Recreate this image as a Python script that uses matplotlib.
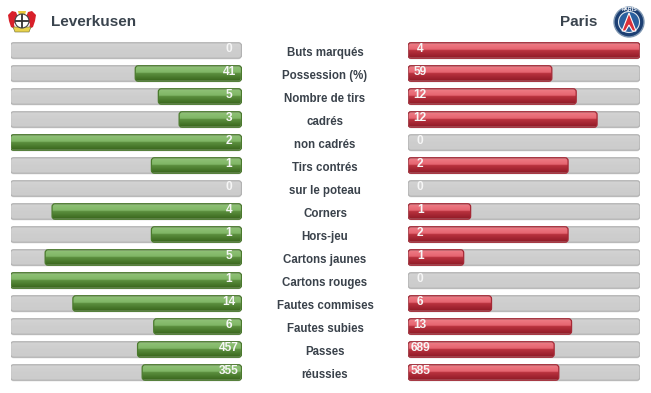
"""Leverkusen vs Paris match stats, two mirrored bar columns."""
import numpy as np
import matplotlib
matplotlib.use("Agg")
import matplotlib.pyplot as plt
from matplotlib.colors import LinearSegmentedColormap
from matplotlib.patches import Circle, FancyBboxPatch, Polygon

W, H = 651, 393

categories = ["Buts marqués", "Possession (%)", "Nombre de tirs", "cadrés", "non cadrés",
              "Tirs contrés", "sur le poteau", "Corners", "Hors-jeu", "Cartons jaunes",
              "Cartons rouges", "Fautes commises", "Fautes subies", "Passes", "réussies"]
home_labels = ["0", "41", "5", "3", "2", "1", "0", "4", "1", "5", "1", "14", "6", "457", "355"]
away_labels = ["4", "59", "12", "12", "0", "2", "0", "1", "2", "1", "0", "6", "13", "689", "585"]
# bar length as % of the track
home_fill = [0, 46, 36, 27, 100, 39, 0, 82, 39, 85, 100, 73, 38, 45, 43]
away_fill = [100, 62, 72.5, 81.5, 0, 69, 0, 27, 69, 24, 0, 36, 70.5, 63, 65]

GRAY = LinearSegmentedColormap.from_list("g", ["#d4d4d4", "#cecece", "#cccccc"])
GREEN = LinearSegmentedColormap.from_list(
    "gr", [(0, "#93c47a"), (0.47, "#7fb565"), (0.5, "#5d9140"), (1, "#38651b")])
RED = LinearSegmentedColormap.from_list(
    "r", [(0, "#f0808a"), (0.47, "#e5646f"), (0.5, "#bb3340"), (1, "#8f1a26")])
grad = np.linspace(0, 1, 64).reshape(-1, 1)

plt.rcParams["font.family"] = ["Liberation Sans", "DejaVu Sans"]
fig = plt.figure(figsize=(W / 100, H / 100), dpi=100)


def px_axes(x0, x1, y0, y1):
    return fig.add_axes([x0 / W, 1 - y1 / H, (x1 - x0) / W, (y1 - y0) / H])


def rounded_bar(ax, x0, x1, row, cmap, edge):
    # rounded box with a vertical gradient clipped inside it
    h = 15.5 / 23
    box = FancyBboxPatch((x0, row - h / 2), x1 - x0, h,
                         boxstyle="round,pad=0,rounding_size=1.3", mutation_aspect=0.1,
                         facecolor="none", edgecolor=edge, linewidth=0.9, zorder=3)
    ax.add_patch(box)
    im = ax.imshow(grad, extent=(x0, x1, row + h / 2, row - h / 2), cmap=cmap, vmin=0, vmax=1,
                   aspect="auto", zorder=2, interpolation="bilinear")
    im.set_clip_path(box)


def draw_side(ax, fills, labels, cmap, edge, reverse):
    ax.set_axis_off()
    for i, (fill, lab) in enumerate(zip(fills, labels)):
        # soft shadow under the track
        ax.add_patch(FancyBboxPatch((0.2, i - 0.28), 99.6, 0.68,
                                    boxstyle="round,pad=0,rounding_size=1.3", mutation_aspect=0.1,
                                    facecolor="#eeeeee", edgecolor="none", zorder=1))
        rounded_bar(ax, 0, 100, i, GRAY, "#b2b2b2")
        if fill > 0:
            if reverse:
                rounded_bar(ax, 100 - fill, 100, i, cmap, edge)
            else:
                rounded_bar(ax, 0, fill, i, cmap, edge)
        x = 94.6 if reverse else 5.2
        ax.text(x, i - 0.07, lab, color="#f6f6f6", fontsize=8.6, fontweight="bold",
                ha="center", va="center", zorder=5)
    ax.set_xlim(0, 100)
    ax.set_ylim(14.5, -0.5)


ax_home = px_axes(10.5, 241.5, 39, 384)
ax_away = px_axes(408, 640, 39, 384)
draw_side(ax_home, home_fill, home_labels, GREEN, "#4a7a2c", True)
draw_side(ax_away, away_fill, away_labels, RED, "#a52835", False)

# top layer in pixel units: centre labels, team names, crests
bg = fig.add_axes([0, 0, 1, 1], zorder=5)
bg.set_xlim(0, W)
bg.set_ylim(H, 0)
bg.set_axis_off()
bg.patch.set_alpha(0)
for i, cat in enumerate(categories):
    bg.text(325, 56 + i * 23, cat, color="#3a424b", fontsize=8.3, fontweight="bold",
            ha="center", va="baseline")
bg.text(51, 22.5, "Leverkusen", color="#3a444e", fontsize=11, fontweight="bold", va="center")
bg.text(597, 22.5, "Paris", color="#3a444e", fontsize=11, fontweight="bold", va="center", ha="right")

# Leverkusen crest
bg.add_patch(Polygon([(8, 15), (12, 11), (16, 12), (18, 17), (14, 24), (15, 29), (11, 27), (9, 21)],
                     facecolor="#d8202a", edgecolor="none"))
bg.add_patch(Polygon([(36, 15), (32, 11), (28, 12), (26, 17), (30, 24), (29, 29), (33, 27), (35, 21)],
                     facecolor="#d8202a", edgecolor="none"))
bg.add_patch(Polygon([(18, 11), (26, 11), (25, 15), (19, 15)], facecolor="#e8c83c", edgecolor="none"))
bg.add_patch(Polygon([(13, 27), (31, 27), (29, 32), (15, 32)], facecolor="#e8d24c", edgecolor="#666633", linewidth=0.4))
bg.add_patch(Circle((22, 21), 7, facecolor="white", edgecolor="#444444", linewidth=0.8))
bg.plot([16, 28], [21, 21], color="#333333", linewidth=1.3)
bg.plot([22, 22], [15, 27], color="#333333", linewidth=1.3)

# Paris crest
bg.add_patch(Circle((629, 22), 15, facecolor="#1c3f73", edgecolor="#7f97b2", linewidth=1))
bg.add_patch(Circle((629, 22), 10.5, facecolor="#2a5f9e", edgecolor="#dfe6ee", linewidth=0.8))
bg.add_patch(Polygon([(629, 13), (636, 31), (632.5, 31), (629, 25), (625.5, 31), (622, 31)],
                     facecolor="#d9303a", edgecolor="white", linewidth=0.8))
bg.text(629, 9.5, "PARIS", color="white", fontsize=3.8, fontweight="bold", ha="center", va="center")

fig.savefig("out.png", dpi=100)
